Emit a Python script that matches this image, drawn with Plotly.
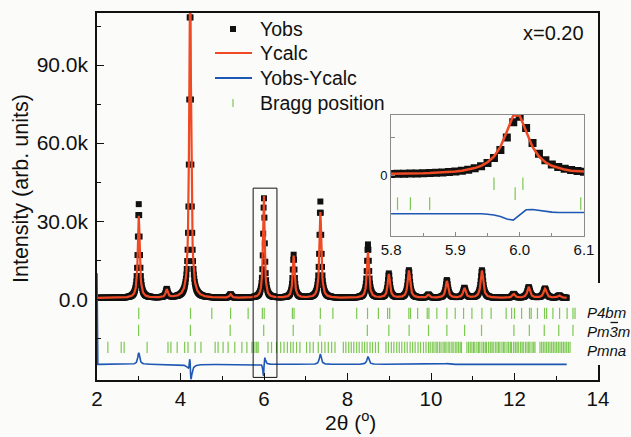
import numpy as np
import plotly.graph_objects as go

# ---------------- data ----------------
# observed peaks (2theta, height, FWHM)
obs_pos = [3.00, 3.67, 4.230, 5.20, 5.998, 6.71, 7.35, 8.49, 8.99, 9.47, 9.94, 10.38, 10.80, 11.22, 11.98, 12.34, 12.73, 13.07]
obs_h   = [36000, 3200, 125000, 1300, 38500, 16500, 37000, 20500, 9300, 10600, 1200, 6800, 3800, 10600, 1500, 4100, 3600, 900]
obs_w   = [0.055, 0.060, 0.050, 0.060, 0.048, 0.055, 0.055, 0.060, 0.065, 0.070, 0.065, 0.070, 0.075, 0.075, 0.075, 0.080, 0.085, 0.085]
# calculated peaks
calc_pos = [3.00, 3.67, 4.231, 5.20, 5.995, 6.71, 7.35, 8.49, 8.99, 9.47, 9.94, 10.38, 10.80, 11.22, 11.98, 12.34, 12.73, 13.07]
calc_h   = [31500, 3100, 124000, 1300, 41000, 16200, 33000, 17500, 9100, 10500, 1200, 6500, 3700, 10500, 1500, 4200, 3500, 900]
calc_w   = [0.055, 0.060, 0.053, 0.060, 0.045, 0.055, 0.055, 0.060, 0.065, 0.070, 0.065, 0.070, 0.075, 0.075, 0.075, 0.080, 0.085, 0.085]
background = 500
scan_start, scan_end, scan_step = 2.0, 13.25, 0.01
diff_offset = -25000
diff_first_value = 10000   # artefact at the first point of the difference curve

# Bragg positions
bragg_p4bm = [3.00, 4.24, 4.75, 5.20, 5.62, 5.96, 6.005, 6.68, 6.72, 7.35, 7.65, 8.22, 8.48, 8.74, 8.96, 9.01,
              9.47, 9.51, 9.68, 9.91, 9.95, 10.14, 10.38, 10.58, 10.78, 10.98, 11.22, 11.44, 11.80, 11.93,
              12.00, 12.17, 12.36, 12.40, 12.55, 12.72, 12.77, 12.92, 13.08, 13.26, 13.40, 13.45]
bragg_pm3m = [2.996, 4.237, 5.190, 5.993, 6.700, 7.340, 8.475, 8.990, 9.476, 9.940, 10.380, 10.805, 11.210,
              11.986, 12.355, 12.713, 13.060, 13.400]
bragg_pmna = [2.26, 2.58, 2.65, 3.20, 3.70, 3.77, 3.92, 4.10, 4.18, 4.35, 4.49, 4.83, 4.90, 5.02, 5.14, 5.30,
              5.47, 5.59, 5.71, 5.76, 5.81, 5.83, 5.86, 6.095, 6.18, 6.30, 6.40, 6.48, 6.56, 6.64, 6.70, 6.78,
              6.86, 7.02, 7.10, 7.18, 7.30, 7.38, 7.46, 7.54, 7.62, 7.70, 7.90, 7.96, 8.03, 8.09, 8.15, 8.22,
              8.28, 8.35, 8.41, 8.47, 8.54, 8.60, 8.67, 8.74, 8.92, 8.98, 9.05, 9.11, 9.18, 9.24, 9.30, 9.37,
              9.43, 9.50, 9.56, 9.62, 9.69, 9.75, 9.82, 9.88, 9.94, 9.98, 10.03, 10.07, 10.12, 10.15, 10.20,
              10.24, 10.29, 10.33, 10.36, 10.41, 10.45, 10.50, 10.53, 10.58, 10.62, 10.66, 10.70, 10.73, 10.86,
              10.90, 10.94, 10.98, 11.02, 11.05, 11.10, 11.14, 11.17, 11.22, 11.26, 11.30, 11.33, 11.38, 11.42,
              11.46, 11.49, 11.54, 11.58, 11.62, 11.65, 11.70, 11.74, 11.77, 11.82, 11.86, 11.90, 11.93, 11.98,
              12.02, 12.06, 12.09, 12.14, 12.18, 12.21, 12.26, 12.30, 12.34, 12.37, 12.42, 12.46, 12.49, 12.61,
              12.65, 12.69, 12.73, 12.77, 12.81, 12.85, 12.89, 12.93, 12.97, 13.01, 13.05, 13.09, 13.13, 13.17,
              13.21, 13.25, 13.29, 13.33]
bragg_levels = [-5400, -11900, -18500]
phase_names = ["P4bm", "Pm3m", "Pmna"]
legend_names = ["Yobs", "Ycalc", "Yobs-Ycalc", "Bragg position"]

y_tickvals = [0, 30000, 60000, 90000]
y_ticktext = ["0.0", "30.0k", "60.0k", "90.0k"]

# ---------------- build profile ----------------
x = np.round(np.arange(scan_start, scan_end + scan_step / 2, scan_step), 4)

def profile(pos, h, w):
    y = np.full_like(x, float(background))
    for p, hh, ww in zip(pos, h, w):
        y += hh / (1 + ((x - p) / (ww / 2)) ** 2)
    return y

yobs = profile(obs_pos, obs_h, obs_w)
ycalc = profile(calc_pos, calc_h, calc_w)
diff = yobs - ycalc + diff_offset
diff[0] = diff_first_value

BG = "#fbfbf9"
BLACK = "#111111"
RED = "#f04a24"
BLUE = "#1f58b4"
GREEN = "#7cc850"
FONT = "Liberation Sans, Arial, sans-serif"

# pixel -> paper helpers (plot area: x 97..598, y 13..380)
def px(v):
    return (v - 97) / 501

def py(v):
    return (380 - v) / 367

fig = go.Figure()

for ax, msize, lw in [("", 6, 2.2), ("2", 8, 2.5)]:
    xa = "x" + ax
    ya = "y" + ax
    fig.add_trace(go.Scatter(x=x, y=yobs, mode="markers", name=legend_names[0], showlegend=False,
                             marker=dict(symbol="square", size=msize, color=BLACK),
                             xaxis=xa, yaxis=ya))
    fig.add_trace(go.Scatter(x=x, y=ycalc, mode="lines", name=legend_names[1], showlegend=False,
                             line=dict(color=RED, width=lw), xaxis=xa, yaxis=ya))
    fig.add_trace(go.Scatter(x=x, y=diff, mode="lines", name=legend_names[2], showlegend=False,
                             line=dict(color=BLUE, width=1.6), xaxis=xa, yaxis=ya))
    for i, (lst, lev) in enumerate(zip([bragg_p4bm, bragg_pm3m, bragg_pmna], bragg_levels)):
        fig.add_trace(go.Scatter(x=lst, y=[lev] * len(lst), mode="markers", name=legend_names[3],
                                 showlegend=False,
                                 marker=dict(symbol="line-ns", size=8 if ax == "" else 9,
                                             line=dict(color=GREEN, width=1.2)),
                                 xaxis=xa, yaxis=ya))

fig.update_layout(
    width=631, height=437,
    margin=dict(l=97, r=33, t=13, b=57),
    paper_bgcolor=BG, plot_bgcolor=BG,
    font=dict(family=FONT, size=19, color=BLACK),
    showlegend=False,
    xaxis=dict(range=[2, 14], tickmode="linear", tick0=2, dtick=2, ticks="inside", ticklen=7,
               tickwidth=1.3, tickcolor=BLACK, showline=True, linecolor=BLACK, linewidth=1.5,
               mirror=True, showgrid=False, zeroline=False, tickfont=dict(size=20.5),
               minor=dict(ticks="inside", tick0=2, dtick=1, ticklen=4, tickwidth=1.2, tickcolor=BLACK)),
    yaxis=dict(range=[-31000, 110000], tickmode="array", tickvals=y_tickvals, ticktext=y_ticktext,
               ticks="inside", ticklen=7, tickwidth=1.3, tickcolor=BLACK, showline=True,
               linecolor=BLACK, linewidth=1.5, mirror=True, showgrid=False, zeroline=False,
               tickfont=dict(size=21), ticklabelstandoff=3,
               minor=dict(ticks="inside", tick0=15000, dtick=30000, ticklen=4, tickwidth=1.2,
                          tickcolor=BLACK)),
    xaxis2=dict(domain=[0.587, 0.972], anchor="y2", range=[5.8, 6.1], tickmode="linear", tick0=5.8,
                dtick=0.1, tickformat=".1f", ticks="inside", ticklen=4, tickcolor="#888",
                showline=True, linecolor="#8a8a8a", linewidth=1, mirror=True, showgrid=False,
                zeroline=False, tickfont=dict(size=15),
                minor=dict(ticks="inside", tick0=5.8, dtick=0.05, ticklen=3, tickcolor="#888")),
    yaxis2=dict(domain=[0.392, 0.722], anchor="x2", range=[-40000, 40000], tickmode="array",
                tickvals=[0], ticktext=["0"], ticks="inside", ticklen=4, tickcolor="#888",
                showline=True, linecolor="#8a8a8a", linewidth=1, mirror=True, showgrid=False,
                zeroline=False, tickfont=dict(size=13),
                minor=dict(ticks="inside", tickvals=[25000], ticklen=4, tickcolor="#888")),
)

# zoom box around the 6.0 peak
fig.add_shape(type="rect", xref="x", yref="y", x0=5.74, x1=6.31, y0=-30000, y1=42700,
              line=dict(color=BLACK, width=1))
# gap in right frame behind phase labels
fig.add_shape(type="rect", xref="paper", yref="paper", x0=0.985, x1=1.01,
              y0=py(365), y1=py(283), fillcolor=BG, line=dict(width=0), layer="above")

# ---- legend drawn by hand (to match the tight row spacing) ----
leg_rows = [29, 53, 78, 103]
fig.add_shape(type="rect", xref="paper", yref="paper", x0=px(230), x1=px(236),
              y0=py(32), y1=py(26), fillcolor=BLACK, line=dict(width=0))
fig.add_shape(type="line", xref="paper", yref="paper", x0=px(215), x1=px(252),
              y0=py(leg_rows[1]), y1=py(leg_rows[1]), line=dict(color=RED, width=2))
fig.add_shape(type="line", xref="paper", yref="paper", x0=px(215), x1=px(252),
              y0=py(leg_rows[2]), y1=py(leg_rows[2]), line=dict(color=BLUE, width=2))
fig.add_shape(type="line", xref="paper", yref="paper", x0=px(233), x1=px(233),
              y0=py(leg_rows[3] + 4), y1=py(leg_rows[3] - 4), line=dict(color=GREEN, width=1.2))
for name, yr in zip(legend_names, leg_rows):
    fig.add_annotation(x=px(258), y=py(yr), xref="paper", yref="paper", text=name,
                       showarrow=False, xanchor="left", yanchor="middle",
                       font=dict(size=19.5, color=BLACK))

LABEL_X = 585
LABEL_FS = 15
for name, yc in zip(phase_names, [312, 331, 350]):
    fig.add_annotation(x=px(LABEL_X), y=py(yc), xref="paper", yref="paper",
                       text="<i>" + name + "</i>", showarrow=False, xanchor="left", yanchor="middle",
                       font=dict(size=LABEL_FS, color=BLACK))
# bar over the "3" of Pm-3m
fig.add_shape(type="line", xref="paper", yref="paper",
              x0=px(LABEL_X + 25.5), x1=px(LABEL_X + 33),
              y0=py(322.5), y1=py(322.5), line=dict(color=BLACK, width=1.3), layer="above")

fig.add_annotation(x=px(586), y=py(33), xref="paper", yref="paper",
                   text="x=0.20", showarrow=False, xanchor="right", yanchor="middle",
                   font=dict(size=20, color=BLACK))
fig.add_annotation(x=px(21), y=py(189), xref="paper", yref="paper",
                   text="Intensity (arb. units)", textangle=-90, showarrow=False,
                   xanchor="center", yanchor="middle", font=dict(size=21.5, color=BLACK))
fig.add_annotation(x=px(350), y=py(421), xref="paper", yref="paper",
                   text="2θ (<sup>o</sup>)", showarrow=False, xanchor="center", yanchor="middle",
                   font=dict(size=21, color=BLACK))

fig.write_html("out.html")
